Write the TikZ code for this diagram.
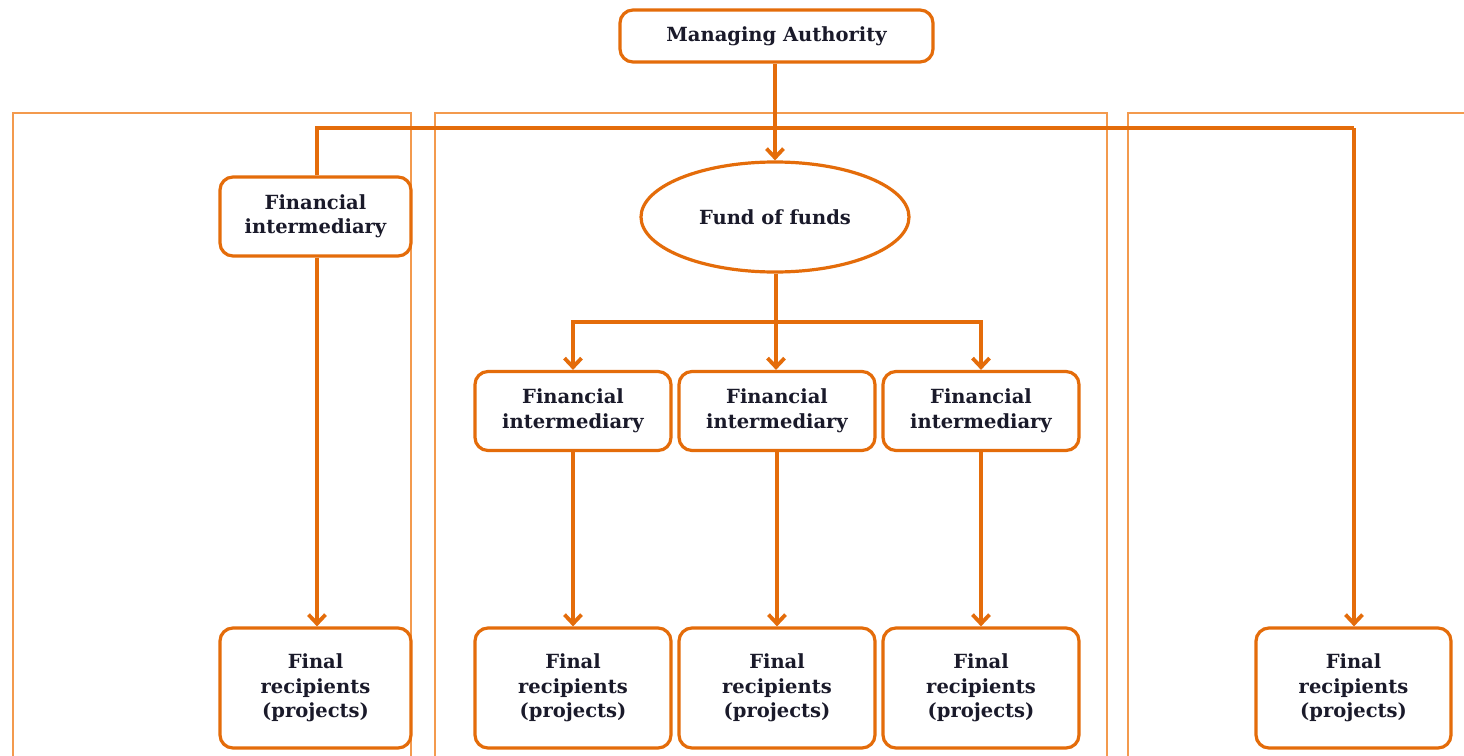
\documentclass[tikz,border=0pt]{standalone}
\usepackage{fontspec}
\setmainfont{DejaVu Serif}
\usetikzlibrary{arrows.meta,shapes.geometric}
\definecolor{dorange}{HTML}{E46C0A}
\definecolor{lorange}{HTML}{F39A4E}
\definecolor{txt}{HTML}{1A1A2A}
\tikzset{
  lbl/.style={text=txt, font=\fontsize{19.5}{24.5}\selectfont\bfseries, align=center, inner sep=0pt},
  box/.style={lbl, draw=dorange, line width=3.2pt, rounded corners=13pt, fill=white},
  fibox/.style={box, minimum width=191pt, minimum height=79pt},
  frbox/.style={box, minimum width=196pt, minimum height=120pt},
  conn/.style={draw=dorange, line width=3.8pt},
  arr/.style={conn, -{Straight Barb[length=9pt,width=17pt,line width=3.8pt]}},
  panel/.style={draw=lorange, line width=1.6pt}
}
\begin{document}
\begin{tikzpicture}[x=1pt,y=-1pt]
\useasboundingbox (0,0) rectangle (1464,755);
\fill[white] (0,0) rectangle (1464,755);
% panels
\draw[panel] (13,760) -- (13,113) -- (411,113) -- (411,760);
\draw[panel] (435,760) -- (435,113) -- (1107,113) -- (1107,760);
\draw[panel] (1128,760) -- (1128,113) -- (1470,113);
% nodes
\node[box, minimum width=313pt, minimum height=52pt] (ma) at (776.5,36) {Managing Authority};
\node[lbl, ellipse, draw=dorange, line width=3.2pt, fill=white, minimum width=268pt, minimum height=110pt] (fof) at (775,217) {Fund of funds};
\node[fibox] (fi0) at (315.5,216.5) {Financial\\intermediary};
\node[fibox, minimum width=196pt] (fi1) at (573,411) {Financial\\intermediary};
\node[fibox, minimum width=196pt] (fi2) at (777,411) {Financial\\intermediary};
\node[fibox, minimum width=196pt] (fi3) at (981,411) {Financial\\intermediary};
\node[frbox, minimum width=191pt] (fr0) at (315.5,688) {Final\\recipients\\(projects)};
\node[frbox] (fr1) at (573,688) {Final\\recipients\\(projects)};
\node[frbox] (fr2) at (777,688) {Final\\recipients\\(projects)};
\node[frbox] (fr3) at (981,688) {Final\\recipients\\(projects)};
\node[frbox, minimum width=195pt] (fr4) at (1353.5,688) {Final\\recipients\\(projects)};
% connectors
\coordinate (hl) at (317,128);
\coordinate (hr) at (1354,128);
\coordinate (bus) at (776,322);
\draw[conn] (fi0.north -| hl) -- (hl) -- (hr);
\draw[arr] (hr) -- (fr4.north -| hr);
\draw[arr] (ma.south -| fof.north) -- (fof.north);
\draw[arr] (fi0.south -| hl) -- (fr0.north -| hl);
\draw[conn] (fof.south -| bus) -- (bus);
\draw[arr] (bus) -| (fi1.north);
\draw[arr] (bus) -| (fi3.north);
\draw[arr] (bus) -- (fi2.north -| bus);
\draw[arr] (fi1) -- (fr1);
\draw[arr] (fi2) -- (fr2);
\draw[arr] (fi3) -- (fr3);
\end{tikzpicture}
\end{document}
